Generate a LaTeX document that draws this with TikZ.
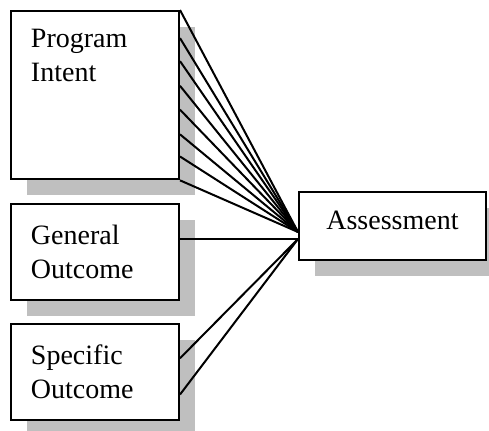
\documentclass[tikz,border=0pt]{standalone}
\usepackage{fontspec}
\setmainfont{Liberation Serif}
\usetikzlibrary{calc,shadows}
\tikzstyle{box}=[draw,line width=1pt,fill=white,anchor=north west,align=left,
  inner xsep=10pt,inner ysep=9pt,text width=64pt,font=\fontsize{14}{17}\selectfont,
  drop shadow={shadow xshift=8pt,shadow yshift=-8pt,fill=black!25,opacity=1}]
\tikzstyle{edge} = [draw,line width=1pt,-]

\begin{document}
\begin{tikzpicture}[x=0.5pt,y=-0.5pt]
      \useasboundingbox (0,0) rectangle (489,430);
      \node[box,text depth=57pt] (intent) at (10,10) {Program\\Intent};
      \node[box,minimum height=48pt] (general) at (10,203) {General\\Outcome};
      \node[box,minimum height=48pt] (specific) at (10,323) {Specific\\Outcome};
      \node[box,text width=73.5pt,minimum height=34pt,align=center,text depth=6pt] (assess) at (298,191) {Assessment};
      \coordinate (hub) at ($(assess.west)+(0,6)$);
      \coordinate (hubb) at ($(assess.west)+(0,13)$);
      \foreach \frac in {0,0.165,0.3,0.445,0.585,0.73,0.86,1}{
        \path[edge] ($(intent.north east)!\frac!(intent.south east)$) -- (hub);
      }
      \path[edge] (general.east |- hubb) -- (hubb);
      \foreach \frac in {0.36,0.73}{
        \path[edge] ($(specific.north east)!\frac!(specific.south east)$) -- (hubb);
      }

    \end{tikzpicture}
\end{document}
